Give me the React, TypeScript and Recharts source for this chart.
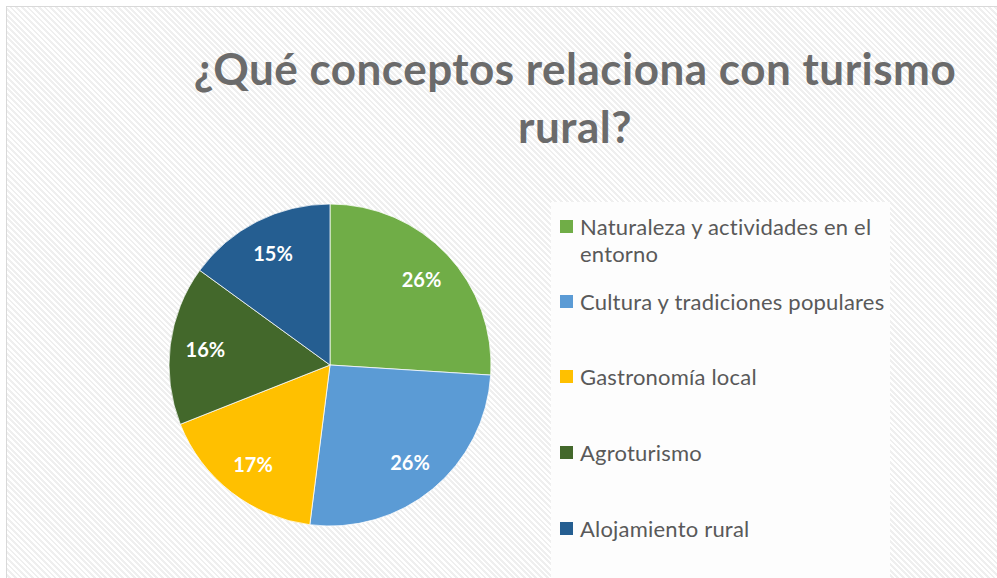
import React from 'react';
import { PieChart, Pie, Cell } from 'recharts';

const categories = [
  'Naturaleza y actividades en el entorno',
  'Cultura y tradiciones populares',
  'Gastronomía local',
  'Agroturismo',
  'Alojamiento rural',
];
const percentages = [26, 26, 17, 16, 15];
const colors = ['#70AD47', '#5B9BD5', '#FFC000', '#43682B', '#255E91'];
const titleLines = ['¿Qué conceptos relaciona con turismo', 'rural?'];

const data = categories.map((name, i) => ({ name, value: percentages[i] }));

const RADIAN = Math.PI / 180;
const FONT = 'Lato, "Open Sans", sans-serif';

// where each legend entry starts, inside the frame
const legendTops = [206, 281, 356, 432, 508];

const renderLabel = (props: any) => {
  const { cx, cy, midAngle, outerRadius, value } = props;
  const r = outerRadius * 0.78;
  const x = cx + r * Math.cos(-midAngle * RADIAN);
  const y = cy + r * Math.sin(-midAngle * RADIAN);
  return (
    <text
      x={x}
      y={y}
      fill="#fff"
      textAnchor="middle"
      dominantBaseline="central"
      fontFamily={FONT}
      fontWeight={700}
      fontSize={20}
    >
      {value}%
    </text>
  );
};

export default function App() {
  return (
    <div
      style={{
        position: 'absolute',
        left: 6,
        top: 6,
        width: 991,
        height: 572,
        overflow: 'hidden',
        borderTop: '1px solid #d9d9d9',
        borderLeft: '1px solid #d9d9d9',
        background: 'repeating-linear-gradient(45deg, #ffffff 0px, #ffffff 2px, #efefef 2px, #efefef 4px)',
        fontFamily: FONT,
      }}
    >
      <div
        style={{
          position: 'absolute',
          left: 68,
          top: 32,
          width: 1000,
          textAlign: 'center',
          fontSize: 44,
          fontWeight: 700,
          letterSpacing: 0.5,
          lineHeight: '58px',
          color: '#6b6b6b',
          whiteSpace: 'nowrap',
        }}
      >
        {titleLines.map((t) => (
          <div key={t}>{t}</div>
        ))}
      </div>

      <div
        style={{
          position: 'absolute',
          left: 544,
          top: 195,
          width: 339,
          height: 400,
          background: '#fdfdfd',
        }}
      />
      {categories.map((c, i) => (
        <div key={c} style={{ position: 'absolute', left: 553, top: legendTops[i] }}>
          <div
            style={{
              position: 'absolute',
              left: 0,
              top: 7,
              width: 13,
              height: 13,
              background: colors[i],
            }}
          />
          <div
            style={{
              position: 'absolute',
              left: 20,
              top: 0,
              width: 312,
              fontSize: 22,
              letterSpacing: 0.2,
              lineHeight: '27px',
              color: '#595959',
            }}
          >
            {c}
          </div>
        </div>
      ))}

      <div style={{ position: 'absolute', left: 0, top: 0 }}>
        <PieChart width={540} height={572} margin={{ top: 0, right: 0, bottom: 0, left: 0 }}>
          <Pie
            data={data}
            dataKey="value"
            nameKey="name"
            cx={323}
            cy={358}
            outerRadius={161}
            startAngle={90}
            endAngle={-270}
            stroke="#ffffff"
            strokeWidth={0.75}
            label={renderLabel}
            labelLine={false}
            isAnimationActive={false}
          >
            {data.map((d, i) => (
              <Cell key={d.name} fill={colors[i]} />
            ))}
          </Pie>
        </PieChart>
      </div>
    </div>
  );
}
